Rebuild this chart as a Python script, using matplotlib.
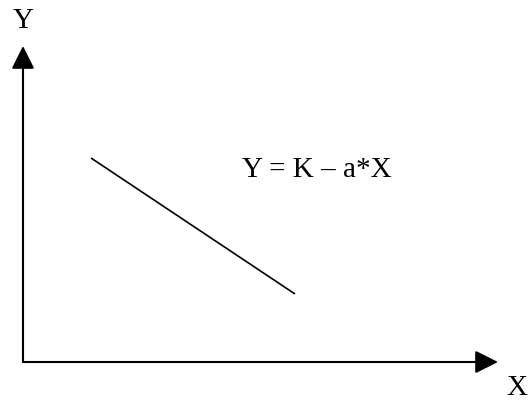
import matplotlib.pyplot as plt

# Demand-style line Y = K - a*X (pixel-ish units, origin at axes corner)
line_x = [68, 272]
line_y = [204, 68]

# Axis extents
x_axis_end = 475
y_axis_end = 316

equation = "Y = K \u2013 a*X"

plt.rcParams["font.family"] = ["Liberation Serif", "DejaVu Serif"]

fig = plt.figure(figsize=(5.29, 4.00), dpi=100)
ax = fig.add_axes([0, 0, 1, 1])
ax.set_xlim(-23, 506)
ax.set_ylim(-38, 362)
ax.axis("off")

# Axes with filled arrowheads
arrow = dict(arrowstyle="-|>,head_length=1.4,head_width=0.7", color="black",
             lw=1.5, shrinkA=0, shrinkB=0)
ax.annotate("", xy=(x_axis_end, 0), xytext=(0, 0), arrowprops=arrow)
ax.annotate("", xy=(0, y_axis_end), xytext=(0, 0), arrowprops=arrow)

# The line
ax.plot(line_x, line_y, color="black", lw=1.2, solid_capstyle="butt")

# Labels
ax.text(0, 341, "Y", fontsize=21, ha="center", va="center")
ax.text(494, -26, "X", fontsize=21, ha="center", va="center")
ax.text(219, 185, equation, fontsize=21, ha="left", va="baseline")

fig.savefig("out.png", dpi=100)
